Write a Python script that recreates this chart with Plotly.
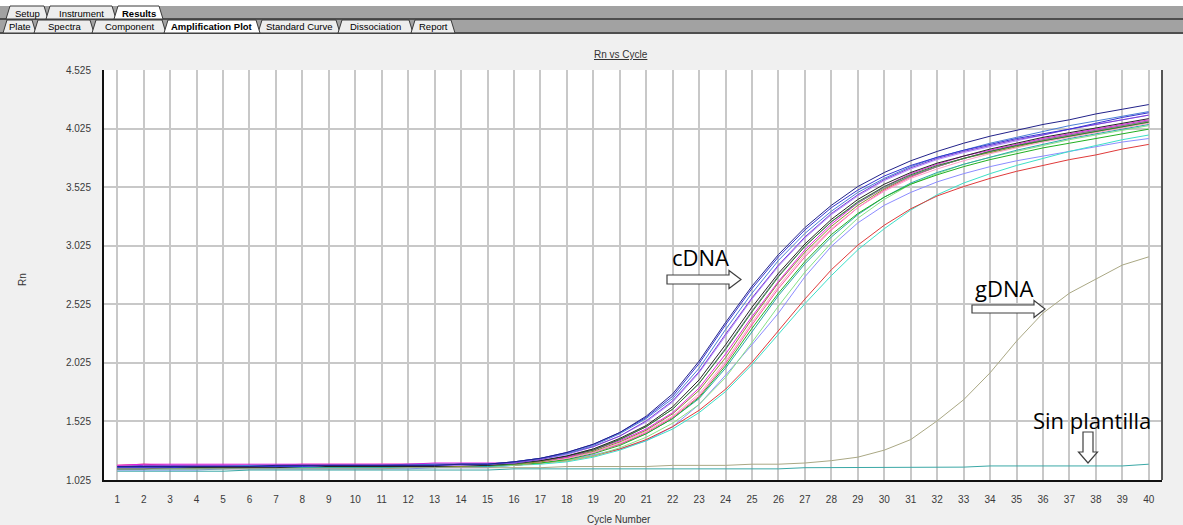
import plotly.graph_objects as go

# ---------------- data ----------------
cycles = list(range(1, 41))

y_tick_vals = [1.025, 1.525, 2.025, 2.525, 3.025, 3.525, 4.025, 4.525]
y_tick_text = ["1.025", "1.525", "2.025", "2.525", "3.025", "3.525", "4.025", "4.525"]

cdna_navy = [1.14,1.14,1.14,1.14,1.14,1.14,1.15,1.15,1.15,1.15,1.15,1.15,1.15,1.16,1.16,
             1.18,1.21,1.26,1.33,1.43,1.57,1.76,2.04,2.37,2.68,2.95,3.18,3.37,3.53,3.65,
             3.75,3.83,3.90,3.96,4.01,4.06,4.10,4.15,4.19,4.23]
cdna_blue = [1.13,1.13,1.13,1.14,1.14,1.14,1.14,1.14,1.15,1.15,1.15,1.15,1.15,1.16,1.16,
             1.18,1.21,1.26,1.33,1.43,1.56,1.74,2.02,2.35,2.66,2.93,3.16,3.35,3.50,3.62,
             3.71,3.78,3.84,3.89,3.94,3.98,4.02,4.07,4.12,4.16]
cdna_medblue = [1.14,1.14,1.14,1.14,1.14,1.15,1.15,1.15,1.15,1.15,1.15,1.15,1.16,1.16,1.16,
                1.18,1.21,1.25,1.32,1.42,1.55,1.72,1.98,2.31,2.62,2.90,3.13,3.32,3.48,3.60,
                3.70,3.78,3.84,3.90,3.95,4.00,4.05,4.09,4.13,4.17]
cdna_purple = [1.14,1.15,1.15,1.15,1.15,1.15,1.15,1.15,1.15,1.15,1.15,1.16,1.16,1.16,1.16,
               1.17,1.20,1.25,1.31,1.40,1.53,1.70,1.95,2.27,2.58,2.86,3.10,3.30,3.46,3.59,
               3.69,3.77,3.83,3.88,3.93,3.97,4.02,4.06,4.10,4.14]
cdna_lavender = [1.13,1.13,1.14,1.14,1.14,1.14,1.14,1.14,1.15,1.15,1.15,1.15,1.15,1.15,1.16,
                 1.17,1.20,1.24,1.31,1.40,1.52,1.69,1.94,2.26,2.57,2.85,3.09,3.29,3.45,3.58,
                 3.68,3.76,3.82,3.87,3.92,3.97,4.02,4.06,4.10,4.14]
cdna_black = [1.12,1.12,1.13,1.13,1.13,1.13,1.13,1.14,1.14,1.14,1.14,1.14,1.14,1.15,1.15,
              1.17,1.19,1.23,1.29,1.38,1.49,1.65,1.88,2.18,2.50,2.79,3.04,3.25,3.42,3.55,
              3.65,3.73,3.79,3.85,3.90,3.95,3.99,4.03,4.07,4.11]
cdna_darkgreen = [1.13,1.13,1.13,1.13,1.14,1.14,1.14,1.14,1.14,1.14,1.14,1.14,1.15,1.15,1.15,
                  1.16,1.19,1.23,1.28,1.37,1.48,1.63,1.85,2.14,2.46,2.76,3.02,3.23,3.40,3.53,
                  3.63,3.71,3.77,3.83,3.88,3.92,3.96,4.00,4.04,4.08]
cdna_gray = [1.14,1.14,1.14,1.14,1.14,1.14,1.14,1.15,1.15,1.15,1.15,1.15,1.15,1.15,1.15,
             1.17,1.19,1.23,1.29,1.37,1.48,1.63,1.85,2.15,2.47,2.77,3.02,3.23,3.39,3.52,
             3.62,3.70,3.77,3.83,3.88,3.93,3.97,4.01,4.05,4.09]
cdna_magenta = [1.15,1.16,1.16,1.16,1.16,1.16,1.16,1.16,1.16,1.16,1.16,1.16,1.17,1.17,1.17,
                1.17,1.19,1.22,1.28,1.36,1.46,1.60,1.81,2.10,2.42,2.72,2.99,3.21,3.39,3.53,
                3.64,3.72,3.79,3.84,3.89,3.94,3.98,4.02,4.06,4.10]
cdna_olive = [1.13,1.13,1.13,1.13,1.13,1.13,1.14,1.14,1.14,1.14,1.14,1.14,1.14,1.14,1.15,
              1.16,1.18,1.22,1.27,1.35,1.45,1.59,1.79,2.07,2.40,2.71,2.97,3.19,3.37,3.51,
              3.62,3.70,3.77,3.82,3.87,3.92,3.96,4.00,4.04,4.08]
cdna_lightpink = [1.15,1.15,1.15,1.15,1.15,1.15,1.15,1.15,1.15,1.15,1.16,1.16,1.16,1.16,1.16,
                  1.16,1.18,1.21,1.26,1.34,1.44,1.57,1.76,2.04,2.37,2.68,2.95,3.17,3.35,3.49,
                  3.60,3.68,3.75,3.81,3.86,3.91,3.95,3.99,4.03,4.07]
cdna_pink = [1.15,1.15,1.15,1.15,1.15,1.15,1.15,1.16,1.16,1.16,1.16,1.16,1.16,1.16,1.16,
             1.16,1.18,1.21,1.26,1.33,1.43,1.56,1.74,2.02,2.35,2.66,2.93,3.16,3.35,3.50,
             3.61,3.70,3.77,3.83,3.88,3.93,3.97,4.01,4.05,4.09]
cdna_green = [1.14,1.14,1.14,1.14,1.14,1.14,1.14,1.14,1.14,1.14,1.14,1.15,1.15,1.15,1.15,
              1.16,1.17,1.20,1.25,1.32,1.42,1.55,1.73,2.00,2.32,2.62,2.89,3.12,3.30,3.44,
              3.55,3.63,3.70,3.76,3.81,3.86,3.90,3.94,3.98,4.02]
cdna_teal = [1.12,1.12,1.12,1.12,1.12,1.13,1.13,1.13,1.13,1.13,1.13,1.13,1.13,1.14,1.14,
             1.16,1.18,1.21,1.26,1.33,1.42,1.55,1.72,1.98,2.29,2.60,2.87,3.10,3.29,3.44,
             3.56,3.65,3.72,3.78,3.84,3.89,3.94,3.98,4.02,4.06]
cdna_lightgreen = [1.12,1.12,1.12,1.12,1.13,1.13,1.13,1.13,1.13,1.13,1.13,1.13,1.14,1.14,1.14,
                   1.15,1.17,1.19,1.23,1.30,1.39,1.51,1.67,1.90,2.20,2.51,2.80,3.05,3.26,3.42,
                   3.55,3.64,3.72,3.78,3.83,3.88,3.93,3.97,4.01,4.05]
cdna_lightblue = [1.11,1.11,1.11,1.11,1.12,1.12,1.12,1.12,1.12,1.12,1.12,1.12,1.13,1.13,1.13,
                  1.15,1.17,1.20,1.24,1.29,1.36,1.48,1.67,1.92,2.18,2.45,2.76,3.02,3.22,3.37,
                  3.48,3.57,3.64,3.70,3.75,3.79,3.83,3.87,3.91,3.94]
cdna_cyan = [1.13,1.13,1.13,1.13,1.13,1.13,1.13,1.13,1.14,1.14,1.14,1.14,1.14,1.14,1.14,
             1.15,1.16,1.18,1.22,1.28,1.36,1.46,1.60,1.78,2.01,2.27,2.53,2.77,2.99,3.17,
             3.33,3.46,3.56,3.64,3.71,3.77,3.83,3.88,3.93,3.97]
cdna_red = [1.15,1.16,1.15,1.15,1.15,1.15,1.15,1.15,1.15,1.15,1.15,1.15,1.15,1.15,1.15,
            1.15,1.17,1.19,1.23,1.29,1.37,1.48,1.62,1.80,2.03,2.30,2.57,2.82,3.03,3.20,
            3.34,3.45,3.53,3.60,3.66,3.71,3.76,3.80,3.85,3.89]

gdna = [1.12,1.12,1.12,1.12,1.12,1.12,1.12,1.12,1.12,1.12,1.12,1.13,1.13,1.13,1.13,
        1.13,1.13,1.14,1.14,1.14,1.14,1.15,1.15,1.15,1.16,1.16,1.17,1.19,1.22,1.28,
        1.37,1.53,1.71,1.94,2.21,2.45,2.62,2.74,2.86,2.93]
ntc = [1.10,1.10,1.10,1.10,1.10,1.11,1.11,1.11,1.11,1.11,1.11,1.11,1.11,1.11,1.11,
       1.12,1.12,1.12,1.12,1.12,1.12,1.12,1.12,1.12,1.12,1.12,1.13,1.13,1.13,1.13,
       1.135,1.135,1.135,1.145,1.145,1.145,1.145,1.145,1.145,1.16]

series = [
    ("cdna_lightblue", cdna_lightblue, "#8c8cff"),
    ("cdna_cyan", cdna_cyan, "#3ee0c8"),
    ("cdna_red", cdna_red, "#e03a3a"),
    ("cdna_lightgreen", cdna_lightgreen, "#86e286"),
    ("cdna_teal", cdna_teal, "#2aa8a8"),
    ("cdna_green", cdna_green, "#22b022"),
    ("cdna_pink", cdna_pink, "#ff4d9a"),
    ("cdna_lightpink", cdna_lightpink, "#ff9ccc"),
    ("cdna_olive", cdna_olive, "#8d8d2e"),
    ("cdna_magenta", cdna_magenta, "#e020e0"),
    ("cdna_gray", cdna_gray, "#7c7c9c"),
    ("cdna_darkgreen", cdna_darkgreen, "#2e7d32"),
    ("cdna_black", cdna_black, "#262626"),
    ("cdna_lavender", cdna_lavender, "#b68cff"),
    ("cdna_purple", cdna_purple, "#7a3fd6"),
    ("cdna_medblue", cdna_medblue, "#4a7fd6"),
    ("cdna_blue", cdna_blue, "#3434d0"),
    ("cdna_navy", cdna_navy, "#22228a"),
    ("gdna", gdna, "#aaa884"),
    ("ntc", ntc, "#3aa8a6"),
]

# ---------------- figure ----------------
W, H = 1183, 525
ML, MR, MT, MB = 104, 21, 70, 45
PW, PH = W - ML - MR, H - MT - MB


def px(x):
    return (x - ML) / PW


def py(y):
    return (H - MB - y) / PH


fig = go.Figure()
for name, vals, col in series:
    fig.add_trace(go.Scatter(x=cycles, y=vals, mode="lines", name=name,
                             line=dict(color=col, width=1), hoverinfo="skip"))

shapes = []
annotations = []

# --- tab bar ---
def rect(x0, y0, x1, y1, fill):
    shapes.append(dict(type="rect", xref="paper", yref="paper",
                       x0=px(x0), x1=px(x1), y0=py(y1), y1=py(y0),
                       fillcolor=fill, line=dict(width=0), layer="above"))

rect(0, 0, W, 6, "#ffffff")
rect(0, 6, W, 18, "#a2a2a2")
rect(0, 18, W, 20, "#4e4e4e")
rect(0, 20, W, 32, "#a2a2a2")
rect(0, 32, W, 34, "#4e4e4e")


def tab(xl, xr, yt, yb, label, active):
    path = "M {},{} L {},{} L {},{} L {},{} Z".format(
        px(xl), py(yb), px(xl + 4), py(yt), px(xr - 4), py(yt), px(xr), py(yb))
    shapes.append(dict(type="path", xref="paper", yref="paper", path=path,
                       fillcolor="#ffffff" if active else "#ededed",
                       line=dict(color="#3a3a3a", width=1), layer="above"))
    annotations.append(dict(xref="paper", yref="paper", x=px((xl + xr) / 2), y=py((yt + yb) / 2 + 0.5),
                            text="<b>" + label + "</b>" if active else label, showarrow=False,
                            xanchor="center", yanchor="middle",
                            font=dict(family="Liberation Sans, Arial", size=9.5,
                                      color="#000000")))

row1 = [(6, 48, "Setup", False), (46, 116, "Instrument", False)]
row2 = [(3, 36, "Plate", False), (34, 94, "Spectra", False), (92, 166, "Component", False),
        (258, 340, "Standard Curve", False), (338, 413, "Dissociation", False), (411, 455, "Report", False)]
for xl, xr, lab, act in row1:
    tab(xl, xr, 6, 19, lab, act)
tab(114, 163, 6, 19, "Results", True)
for xl, xr, lab, act in row2:
    tab(xl, xr, 20, 33, lab, act)
tab(164, 260, 20, 33, "Amplification Plot", True)

# --- right frame line ---
shapes.append(dict(type="line", xref="paper", yref="paper", x0=1, x1=1, y0=0, y1=1,
                   line=dict(color="#555555", width=2), layer="above"))

# --- hollow arrows ---
def right_arrow(x0, x1, xh, yc, hs, hh):
    pts = [(x0, yc - hs), (xh, yc - hs), (xh, yc - hh), (x1, yc), (xh, yc + hh), (xh, yc + hs), (x0, yc + hs)]
    path = "M " + " L ".join("{},{}".format(px(a), py(b)) for a, b in pts) + " Z"
    shapes.append(dict(type="path", xref="paper", yref="paper", path=path,
                       fillcolor="#ffffff", line=dict(color="#404040", width=1.2), layer="above"))


def down_arrow(xc, y0, y1, yh, hs, hh):
    pts = [(xc - hs, y0), (xc + hs, y0), (xc + hs, yh), (xc + hh, yh), (xc, y1), (xc - hh, yh), (xc - hs, yh)]
    path = "M " + " L ".join("{},{}".format(px(a), py(b)) for a, b in pts) + " Z"
    shapes.append(dict(type="path", xref="paper", yref="paper", path=path,
                       fillcolor="#ffffff", line=dict(color="#404040", width=1.2), layer="above"))

right_arrow(667, 741, 729, 279.5, 4.5, 9)
right_arrow(972, 1045, 1034, 309, 4, 8.5)
down_arrow(1088, 432, 463, 452, 5, 9.5)

big_font = dict(family="Open Sans, Noto Sans", size=22, color="#000000")
annotations.append(dict(xref="paper", yref="paper", x=px(700), y=py(257), text="cDNA",
                        showarrow=False, xanchor="center", yanchor="middle", font=big_font))
annotations.append(dict(xref="paper", yref="paper", x=px(1004), y=py(288), text="gDNA",
                        showarrow=False, xanchor="center", yanchor="middle", font=big_font))
annotations.append(dict(xref="paper", yref="paper", x=px(1092), y=py(420), text="Sin plantilla",
                        showarrow=False, xanchor="center", yanchor="middle", font=big_font))

small_font = dict(family="Liberation Sans, Arial", size=10, color="#333333")
annotations.append(dict(xref="paper", yref="paper", x=px(621), y=py(55), text="<u>Rn vs Cycle</u>",
                        showarrow=False, xanchor="center", yanchor="middle", font=small_font))
annotations.append(dict(xref="paper", yref="paper", x=px(22), y=py(280), text="Rn", textangle=-90,
                        showarrow=False, xanchor="center", yanchor="middle", font=small_font))
annotations.append(dict(xref="paper", yref="paper", x=px(619), y=py(519), text="Cycle Number",
                        showarrow=False, xanchor="center", yanchor="middle", font=small_font))

fig.update_layout(
    width=W, height=H,
    margin=dict(l=ML, r=MR, t=MT, b=MB, pad=0),
    paper_bgcolor="#f0f0f0", plot_bgcolor="#ffffff",
    showlegend=False,
    shapes=shapes, annotations=annotations,
    xaxis=dict(range=[0.5, 40.5], tickmode="array", tickvals=cycles, ticktext=[str(c) for c in cycles],
               showgrid=True, gridcolor="#c8c8c8", gridwidth=1.5, zeroline=False,
               showline=True, linecolor="#111111", linewidth=2, ticks="", ticklabelstandoff=9,
               tickfont=dict(family="Liberation Sans, Arial", size=10, color="#3a3a3a"), fixedrange=True),
    yaxis=dict(range=[1.025, 4.525], tickmode="array", tickvals=y_tick_vals, ticktext=y_tick_text,
               showgrid=True, gridcolor="#c8c8c8", gridwidth=1.5, zeroline=False,
               showline=True, linecolor="#111111", linewidth=2, ticks="", ticklabelstandoff=9,
               tickfont=dict(family="Liberation Sans, Arial", size=10, color="#3a3a3a"), fixedrange=True),
)

fig.write_html("out.html", include_plotlyjs=True, config={"displayModeBar": False})
